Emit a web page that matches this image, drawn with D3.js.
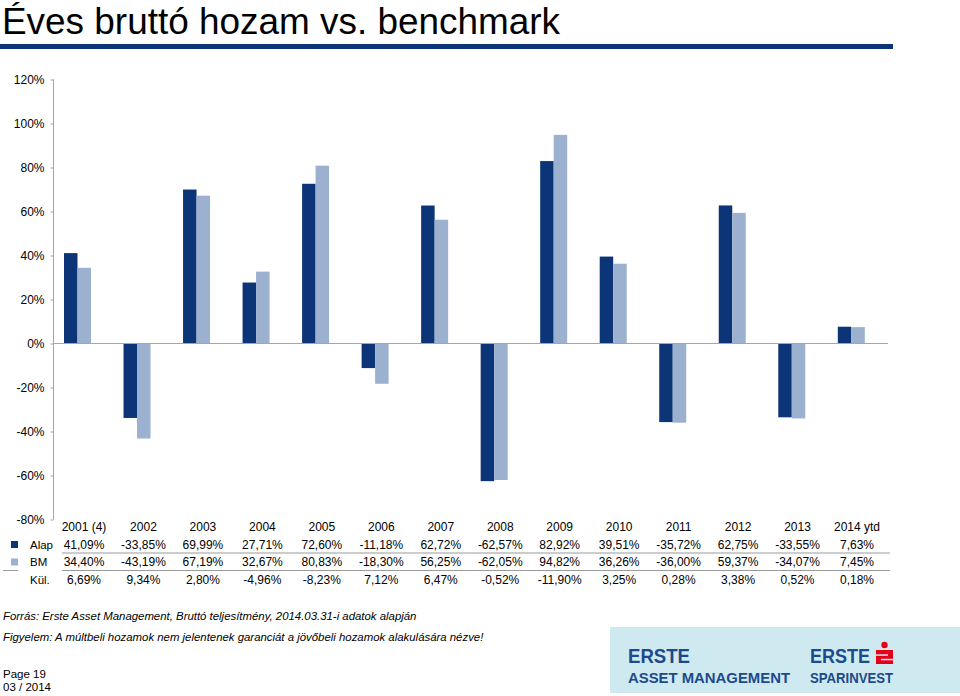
<!DOCTYPE html>
<html><head><meta charset="utf-8">
<script src="https://cdn.jsdelivr.net/npm/d3@7"></script>
<style>body{margin:0;background:#fff}svg{display:block}text{font-family:"Liberation Sans",Arial,sans-serif}</style>
</head><body>
<script>
const categories = ["2001 (4)","2002","2003","2004","2005","2006","2007","2008","2009","2010","2011","2012","2013","2014 ytd"];
const alap = [41.09,-33.85,69.99,27.71,72.60,-11.18,62.72,-62.57,82.92,39.51,-35.72,62.75,-33.55,7.63];
const bm = [34.40,-43.19,67.19,32.67,80.83,-18.30,56.25,-62.05,94.82,36.26,-36.00,59.37,-34.07,7.45];
const kul = [6.69,9.34,2.80,-4.96,-8.23,7.12,6.47,-0.52,-11.90,3.25,0.28,3.38,0.52,0.18];
const yTicks = [120,100,80,60,40,20,0,-20,-40,-60,-80];
const seriesNames = ["Alap","BM","Kül."];
const colors = {Alap:"#0c3577", BM:"#9cb1d0"};

const fmt = v => v.toFixed(2).replace(".", ",") + "%";

const W = 960, H = 696;
const svg = d3.select("body").append("svg").attr("width", W).attr("height", H);

// Title
svg.append("text").attr("x", 2).attr("y", 34).attr("font-size", 37).attr("fill", "#000")
  .attr("textLength", 558).attr("lengthAdjust", "spacingAndGlyphs")
  .text("Éves bruttó hozam vs. benchmark");
svg.append("rect").attr("x", 0).attr("y", 44).attr("width", 893).attr("height", 5).attr("fill", "#0c3577");

// Scales
const y = d3.scaleLinear().domain([-80, 120]).range([519.5, 79.5]);
const x = d3.scalePoint().domain(categories).range([77.5, 851.3]);
const xs = d3.scaleBand().domain(["Alap","BM"]).range([-13.5, 13.5]);

// Y axis
const yAxis = d3.axisLeft(y).tickValues(yTicks).tickSize(3).tickFormat(d => d + "%");
const gy = svg.append("g").attr("transform", "translate(53.5,0)").call(yAxis);
gy.select(".domain").attr("stroke", "#a6a6a6").attr("d", "M0," + y(120) + "V" + y(-80));
gy.selectAll(".tick line").attr("stroke", "#a6a6a6").attr("x2", -3);
gy.selectAll(".tick text").attr("font-size", 12).attr("font-family", "Liberation Sans, Arial").attr("fill", "#000").attr("x", -9).attr("dy", "0.35em");

// Bars
const groups = svg.append("g").selectAll("g").data(categories).join("g")
  .attr("transform", d => `translate(${x(d)},0)`);
groups.selectAll("rect").data((d, i) => [{k:"Alap", v:alap[i]}, {k:"BM", v:bm[i]}]).join("rect")
  .attr("x", d => xs(d.k))
  .attr("width", xs.bandwidth())
  .attr("y", d => y(Math.max(0, d.v)))
  .attr("height", d => Math.abs(y(d.v) - y(0)))
  .attr("fill", d => colors[d.k]);

// zero line
svg.append("line").attr("x1", 53.5).attr("x2", 888).attr("y1", y(0)).attr("y2", y(0))
  .attr("stroke", "#a6a6a6").attr("stroke-width", 1.2);

// Data table
const xt = d3.scalePoint().domain(categories).range([84, 857]);
const rowY = [527, 544.5, 562, 579.5];
const tf = 12;
const tbl = svg.append("g").attr("font-size", tf).attr("fill", "#000");
tbl.selectAll("text.hdr").data(categories).join("text").attr("class","hdr")
  .attr("x", d => xt(d)).attr("y", rowY[0]).attr("dy","0.35em").attr("text-anchor","middle").text(d => d);
[alap, bm, kul].forEach((arr, r) => {
  tbl.selectAll("text.r" + r).data(arr).join("text").attr("class", "r" + r)
    .attr("x", (d, i) => xt(categories[i])).attr("y", rowY[r + 1]).attr("dy","0.35em")
    .attr("text-anchor","middle").text(d => fmt(d));
});
// row labels
tbl.selectAll("text.lbl").data(seriesNames).join("text").attr("class","lbl")
  .attr("x", 30).attr("y", (d, i) => rowY[i + 1]).attr("dy","0.35em").attr("font-size", 11.5).text(d => d);
// legend keys
svg.selectAll("rect.key").data(["Alap","BM"]).join("rect").attr("class","key")
  .attr("x", 11).attr("y", (d, i) => rowY[i + 1] - 3.5).attr("width", 7).attr("height", 7).attr("fill", d => colors[d]);
// row separators
[553, 570.5].forEach(yy => {
  svg.append("line").attr("x1", 62).attr("x2", 890).attr("y1", yy).attr("y2", yy).attr("stroke", "#9a9a9a").attr("stroke-width", 1);
});
svg.append("line").attr("x1", 3).attr("x2", 18).attr("y1", 570.5).attr("y2", 570.5).attr("stroke", "#9a9a9a");

// Footer notes
svg.append("text").attr("x", 3).attr("y", 620).attr("font-size", 11.4).attr("font-style", "italic")
  .text("Forrás: Erste Asset Management, Bruttó teljesítmény, 2014.03.31-i adatok alapján");
svg.append("text").attr("x", 3).attr("y", 641).attr("font-size", 11.4).attr("font-style", "italic")
  .text("Figyelem: A múltbeli hozamok nem jelentenek garanciát a jövőbeli hozamok alakulására nézve!");
svg.append("text").attr("x", 3).attr("y", 678).attr("font-size", 11.5).text("Page 19");
svg.append("text").attr("x", 3).attr("y", 691).attr("font-size", 11.5).text("03 / 2014");

// Logo box
svg.append("rect").attr("x", 610).attr("y", 627).attr("width", 350).attr("height", 66).attr("fill", "#cfe9f1");
const logoFont = "'Liberation Sans Narrow','DejaVu Sans Condensed',Arial";
const lg = svg.append("g").attr("fill", "#1c4a8a").attr("font-weight", "bold").attr("font-family", logoFont);
lg.append("text").attr("x", 628).attr("y", 663).attr("font-size", 21).attr("textLength", 62).attr("lengthAdjust","spacingAndGlyphs").text("ERSTE");
lg.append("text").attr("x", 628).attr("y", 683).attr("font-size", 15).attr("textLength", 162).attr("lengthAdjust","spacingAndGlyphs").text("ASSET MANAGEMENT");
lg.append("text").attr("x", 810).attr("y", 663).attr("font-size", 21).attr("textLength", 60).attr("lengthAdjust","spacingAndGlyphs").text("ERSTE");
lg.append("text").attr("x", 810).attr("y", 683).attr("font-size", 15).attr("textLength", 83).attr("lengthAdjust","spacingAndGlyphs").text("SPARINVEST");
// red S mark
const rs = svg.append("g").attr("fill", "#e2001a");
rs.append("circle").attr("cx", 884.5).attr("cy", 645).attr("r", 3.2);
rs.append("rect").attr("x", 876).attr("y", 650).attr("width", 17).attr("height", 14);
rs.append("rect").attr("x", 876).attr("y", 654.3).attr("width", 12).attr("height", 1.5).attr("fill", "#cfe9f1");
rs.append("rect").attr("x", 881).attr("y", 658.8).attr("width", 12).attr("height", 1.5).attr("fill", "#cfe9f1");
</script>
</body></html>
